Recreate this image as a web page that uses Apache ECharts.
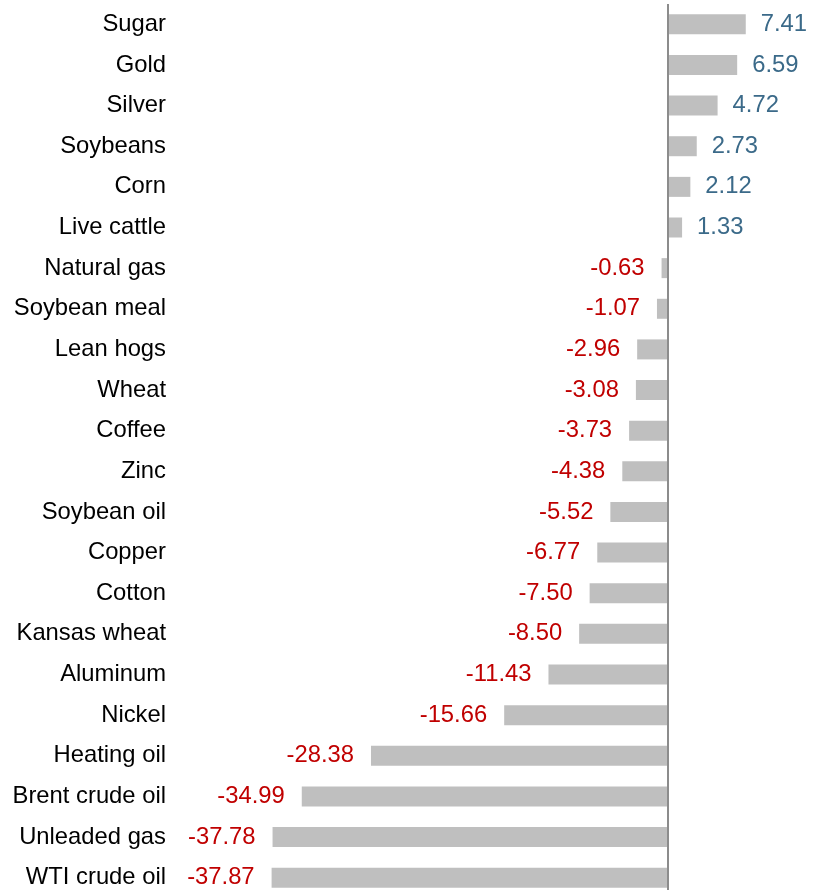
<!DOCTYPE html>
<html>
<head>
<meta charset="utf-8">
<style>
  html, body { margin: 0; padding: 0; background: #ffffff; }
  #chart { width: 820px; height: 890px; }
</style>
<script src="https://cdn.jsdelivr.net/npm/echarts@6/dist/echarts.min.js"></script>
</head>
<body>
<div id="chart"></div>
<script>
// Commodities, top to bottom
const commodities = [
  'Sugar', 'Gold', 'Silver', 'Soybeans', 'Corn', 'Live cattle',
  'Natural gas', 'Soybean meal', 'Lean hogs', 'Wheat', 'Coffee', 'Zinc',
  'Soybean oil', 'Copper', 'Cotton', 'Kansas wheat', 'Aluminum', 'Nickel',
  'Heating oil', 'Brent crude oil', 'Unleaded gas', 'WTI crude oil'
];
// Percentage change for each commodity
const changes = [
  7.41, 6.59, 4.72, 2.73, 2.12, 1.33,
  -0.63, -1.07, -2.96, -3.08, -3.73, -4.38,
  -5.52, -6.77, -7.50, -8.50, -11.43, -15.66,
  -28.38, -34.99, -37.78, -37.87
];

const FONT = '"Liberation Sans", Arial, sans-serif';
const FONT_SIZE = 23.8;
const POS_COLOR = '#3b6a89';
const NEG_COLOR = '#c00000';

const chart = echarts.init(document.getElementById('chart'), null, { renderer: 'canvas' });

const barData = changes.map(v => ({
  value: v,
  label: {
    position: v >= 0 ? 'right' : 'left',
    distance: v >= 0 ? 15 : 17,
    color: v >= 0 ? POS_COLOR : NEG_COLOR
  }
}));

chart.setOption({
  animation: false,
  backgroundColor: '#ffffff',
  // the last row runs slightly past the bottom edge of the canvas
  grid: {
    left: 176, width: 644, top: 4, height: 894,
    containLabel: false,
    outerBoundsMode: 'none'
  },
  xAxis: {
    type: 'value',
    min: -47,
    max: 14.5,
    show: false
  },
  yAxis: {
    type: 'category',
    data: commodities,
    inverse: true,
    axisLine: { show: false },
    axisTick: { show: false },
    splitLine: { show: false },
    axisLabel: {
      margin: 10,
      color: '#000000',
      fontFamily: FONT,
      fontSize: FONT_SIZE
    }
  },
  series: [{
    type: 'bar',
    data: barData,
    barWidth: 20,
    itemStyle: { color: '#bfbfbf' },
    label: {
      show: true,
      fontFamily: FONT,
      fontSize: FONT_SIZE,
      formatter: p => p.value.toFixed(2)
    },
    markLine: {
      silent: true,
      symbol: 'none',
      label: { show: false },
      lineStyle: { color: '#8c8c8c', width: 2, type: 'solid' },
      data: [{ xAxis: 0 }]
    }
  }]
});
</script>
</body>
</html>
